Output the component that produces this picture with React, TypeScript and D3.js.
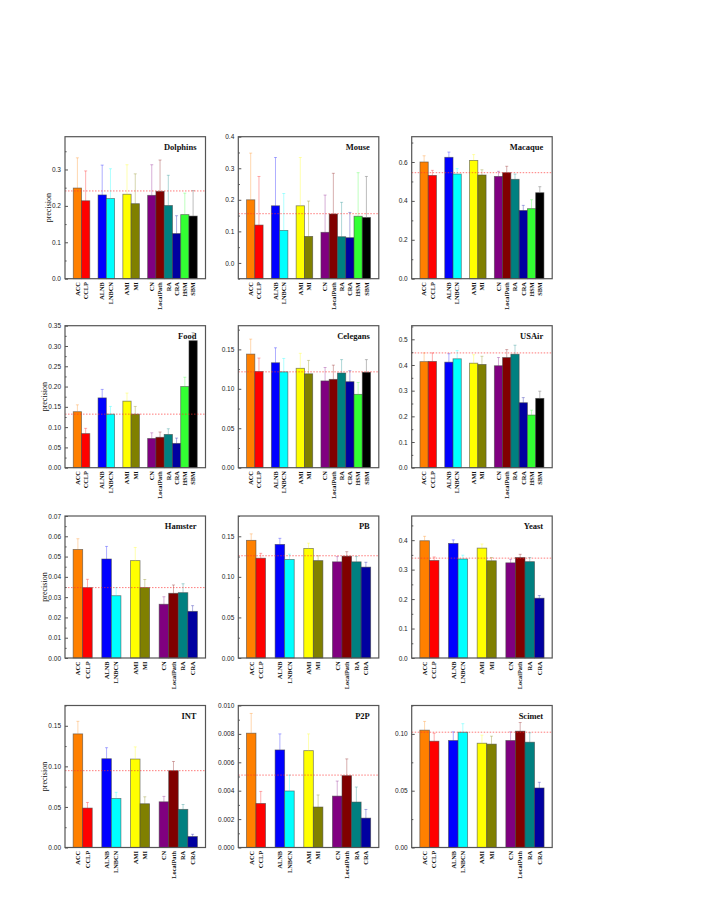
import React, { useEffect, useRef } from "react";
import * as d3 from "d3";

const width = 708;
const height = 917;

// methods, in the order the bars appear; a gap separates each group
const methodGroups = [
  ["ACC", "CCLP"],
  ["ALNB", "LNBCN"],
  ["AMI", "MI"],
  ["CN", "LocalPath", "RA", "CRA", "HSM", "SBM"],
];

const methodColors: Record<string, string> = {
  ACC: "#ff8000",
  CCLP: "#ff0000",
  ALNB: "#0000ff",
  LNBCN: "#00ffff",
  AMI: "#ffff00",
  MI: "#808000",
  CN: "#800080",
  LocalPath: "#800000",
  RA: "#008080",
  CRA: "#0000a0",
  HSM: "#33ff33",
  SBM: "#000000",
};

// precision and its error, one value per method
const dolphinsPrecision = [0.249, 0.214, 0.230, 0.220, 0.232, 0.206, 0.229, 0.240, 0.201, 0.124, 0.176, 0.172];
const dolphinsError = [0.083, 0.082, 0.082, 0.082, 0.081, 0.082, 0.084, 0.086, 0.083, 0.049, 0.059, 0.070];
const mousePrecision = [0.200, 0.120, 0.181, 0.103, 0.181, 0.084, 0.097, 0.155, 0.083, 0.080, 0.148, 0.144];
const mouseError = [0.148, 0.154, 0.153, 0.117, 0.153, 0.112, 0.118, 0.129, 0.109, 0.080, 0.138, 0.130];
const macaquePrecision = [0.600, 0.531, 0.624, 0.538, 0.608, 0.533, 0.526, 0.545, 0.511, 0.351, 0.360, 0.442];
const macaqueError = [0.032, 0.026, 0.027, 0.028, 0.030, 0.027, 0.026, 0.033, 0.027, 0.026, 0.046, 0.031];
const foodPrecision = [0.138, 0.084, 0.172, 0.132, 0.164, 0.132, 0.072, 0.075, 0.082, 0.060, 0.200, 0.313];
const foodError = [0.017, 0.013, 0.021, 0.019, 0.020, 0.019, 0.014, 0.013, 0.014, 0.013, 0.023, 0.020];
const celegansPrecision = [0.144, 0.122, 0.133, 0.1215, 0.126, 0.119, 0.110, 0.112, 0.120, 0.109, 0.093, 0.121];
const celegansError = [0.019, 0.017, 0.019, 0.017, 0.019, 0.017, 0.017, 0.018, 0.017, 0.014, 0.015, 0.016];
const usairPrecision = [0.413, 0.414, 0.411, 0.424, 0.407, 0.402, 0.397, 0.429, 0.442, 0.253, 0.205, 0.270];
const usairError = [0.034, 0.033, 0.033, 0.032, 0.033, 0.032, 0.032, 0.031, 0.035, 0.020, 0.019, 0.028];
const hamsterPrecision = [0.0535, 0.0347, 0.0488, 0.0307, 0.048, 0.0347, 0.0265, 0.0319, 0.0322, 0.023];
const hamsterError = [0.0053, 0.0041, 0.0062, 0.004, 0.0065, 0.004, 0.0037, 0.0041, 0.0044, 0.0028];
const pbPrecision = [0.145, 0.123, 0.140, 0.1214, 0.135, 0.120, 0.1185, 0.1255, 0.1185, 0.112];
const pbError = [0.008, 0.006, 0.0075, 0.0066, 0.0065, 0.006, 0.0065, 0.0055, 0.0065, 0.006];
const yeastPrecision = [0.398, 0.331, 0.389, 0.336, 0.373, 0.330, 0.323, 0.341, 0.327, 0.203];
const yeastError = [0.015, 0.012, 0.012, 0.013, 0.014, 0.011, 0.012, 0.011, 0.014, 0.009];
const intPrecision = [0.140, 0.0486, 0.1094, 0.0604, 0.109, 0.0539, 0.0563, 0.0947, 0.047, 0.0135];
const intError = [0.0155, 0.0069, 0.0136, 0.0076, 0.015, 0.0086, 0.0067, 0.0113, 0.006, 0.0028];
const p2pPrecision = [0.00805, 0.0031, 0.00687, 0.00398, 0.00682, 0.00285, 0.00362, 0.00506, 0.0032, 0.00207];
const p2pError = [0.00139, 0.00085, 0.00113, 0.00112, 0.00118, 0.00085, 0.00106, 0.00118, 0.00106, 0.00061];
const scimetPrecision = [0.1033, 0.0936, 0.0942, 0.1015, 0.0918, 0.091, 0.0942, 0.1024, 0.0927, 0.0524];
const scimetError = [0.0077, 0.007, 0.0076, 0.0075, 0.0071, 0.007, 0.0076, 0.0076, 0.0083, 0.005];

// red dotted reference level of each network
const networks = ["Dolphins", "Mouse", "Macaque", "Food", "Celegans", "USAir", "Hamster", "PB", "Yeast", "INT", "P2P", "Scimet"];
const referenceLevels = [0.241, 0.156, 0.545, 0.132, 0.1215, 0.447, 0.0347, 0.126, 0.339, 0.0947, 0.0051, 0.1015];

// y axes: [min, max], major step, label format
const yDomains = [[0, 0.39], [-0.05, 0.4], [0, 0.73], [0, 0.35], [0, 0.18], [0, 0.553], [0, 0.07], [0, 0.175], [0, 0.482], [0, 0.175], [0, 0.01], [0, 0.125]];
const yStarts = [0, 0, 0, 0, 0, 0, 0, 0, 0, 0, 0, 0];
const ySteps = [0.1, 0.1, 0.2, 0.05, 0.05, 0.1, 0.01, 0.05, 0.1, 0.05, 0.002, 0.05];
const yFormats = [".1f", ".1f", ".1f", ".2f", ".2f", ".1f", ".2f", ".2f", ".1f", ".2f", ".3f", ".2f"];

const precisions = [
  dolphinsPrecision, mousePrecision, macaquePrecision,
  foodPrecision, celegansPrecision, usairPrecision,
  hamsterPrecision, pbPrecision, yeastPrecision,
  intPrecision, p2pPrecision, scimetPrecision,
];
const errors = [
  dolphinsError, mouseError, macaqueError,
  foodError, celegansError, usairError,
  hamsterError, pbError, yeastError,
  intError, p2pError, scimetError,
];

var colLeft = [65, 238.3, 411.7];
var rowTop = [136.7, 325.7, 516, 705.5];
var plotW = 140.5;
var plotH = 142;

var serif = "'Liberation Serif', 'Times New Roman', serif";
var sans = "'Liberation Sans', Arial, sans-serif";

// slot index of every method, with one empty slot between groups
function slotsFor(n: number) {
  var out: { name: string; slot: number }[] = [];
  var s = 0;
  methodGroups.forEach((g, gi) => {
    if (gi > 0) s += 1;
    g.forEach(m => {
      if (out.length < n) out.push({ name: m, slot: s });
      s += 1;
    });
  });
  return out;
}

function drawPanel(svg: any, k: number) {
  var left = colLeft[k % 3];
  var top = rowTop[Math.floor(k / 3)];
  var values = precisions[k];
  var errs = errors[k];
  var items = slotsFor(values.length);
  var last = items[items.length - 1].slot + 1;
  var pad = values.length === 12 ? 1 : 0.85;

  var x = d3.scaleLinear().domain([-pad, last + pad]).range([left, left + plotW]);
  var dom = yDomains[k];
  var y = d3.scaleLinear().domain(dom).range([top + plotH, top]);

  var g = svg.append("g");

  var majors = d3.range(yStarts[k], dom[1] + 1e-9, ySteps[k]);
  var minors = d3.range(yStarts[k] - ySteps[k] / 2, dom[1] + 1e-9, ySteps[k]).filter(v => v >= dom[0] - 1e-9);

  // bars
  g.selectAll("rect.bar")
    .data(items)
    .enter()
    .append("rect")
    .attr("class", "bar")
    .attr("x", d => x(d.slot))
    .attr("width", d => x(d.slot + 1) - x(d.slot))
    .attr("y", (d, i) => y(values[i]))
    .attr("height", (d, i) => y(dom[0]) - y(values[i]))
    .attr("fill", d => methodColors[d.name])
    .attr("stroke", "#444")
    .attr("stroke-opacity", 0.65)
    .attr("stroke-width", 0.8);

  // error bars (upper half only)
  var eb = g.selectAll("g.err").data(items).enter().append("g")
    .attr("stroke", d => d.name === "SBM" ? "#888" : methodColors[d.name])
    .attr("stroke-opacity", d => d.name === "SBM" ? 0.7 : 0.4)
    .attr("stroke-width", 0.8);
  eb.append("line")
    .attr("x1", d => x(d.slot + 0.5))
    .attr("x2", d => x(d.slot + 0.5))
    .attr("y1", (d, i) => y(values[i]))
    .attr("y2", (d, i) => y(values[i] + errs[i]));
  eb.append("line")
    .attr("x1", d => x(d.slot + 0.5) - 1.5)
    .attr("x2", d => x(d.slot + 0.5) + 1.5)
    .attr("y1", (d, i) => y(values[i] + errs[i]))
    .attr("y2", (d, i) => y(values[i] + errs[i]));

  // reference level
  g.append("line")
    .attr("x1", left)
    .attr("x2", left + plotW)
    .attr("y1", y(referenceLevels[k]))
    .attr("y2", y(referenceLevels[k]))
    .attr("stroke", "#ff3030")
    .attr("stroke-opacity", 0.8)
    .attr("stroke-width", 0.8)
    .attr("stroke-dasharray", "1.5,1.5");

  // frame
  g.append("rect")
    .attr("x", left)
    .attr("y", top)
    .attr("width", plotW)
    .attr("height", plotH)
    .attr("fill", "none")
    .attr("stroke", "#555")
    .attr("stroke-width", 1.2);

  // left axis, ticks pointing inward
  var ax = g.append("g")
    .attr("transform", `translate(${left},0)`)
    .call(
      d3.axisLeft(y)
        .tickValues(majors)
        .tickSize(-3)
        .tickPadding(4)
        .tickFormat(d3.format(yFormats[k]) as any)
    );
  ax.select(".domain").remove();
  ax.selectAll("line").attr("stroke", "#555");
  ax.selectAll("text")
    .attr("font-family", sans)
    .attr("font-size", "6.5px")
    .attr("fill", "#222");

  var mx = g.append("g")
    .attr("transform", `translate(${left},0)`)
    .call(d3.axisLeft(y).tickValues(minors).tickSize(-1.6).tickFormat(() => ""));
  mx.select(".domain").remove();
  mx.selectAll("line").attr("stroke", "#555");

  // method names under the bars
  g.selectAll("text.method")
    .data(items)
    .enter()
    .append("text")
    .attr("class", "method")
    .attr("transform", d => `translate(${x(d.slot + 0.5) + 2.3},${top + plotH + 3.5}) rotate(-90)`)
    .attr("text-anchor", "end")
    .attr("font-family", serif)
    .attr("font-weight", "bold")
    .attr("font-size", "6.3px")
    .attr("fill", "#111")
    .text(d => d.name);

  // network name
  g.append("text")
    .attr("x", left + plotW - 9)
    .attr("y", top + 13)
    .attr("text-anchor", "end")
    .attr("font-family", serif)
    .attr("font-weight", "bold")
    .attr("font-size", "8.5px")
    .attr("fill", "#111")
    .text(networks[k]);

  if (k % 3 === 0) {
    // sits just left of the widest tick label
    var off = yFormats[k] === ".1f" ? 14 : 18.5;
    g.append("text")
      .attr("transform", `translate(${left - off},${top + plotH / 2}) rotate(-90)`)
      .attr("text-anchor", "middle")
      .attr("font-family", serif)
      .attr("font-size", "8px")
      .attr("fill", "#111")
      .text("precision");
  }
}

function Chart() {
  const svgRef = useRef<SVGSVGElement>(null);

  useEffect(() => {
    var svg = d3.select(svgRef.current);
    svg.selectAll("*").remove();
    svg.append("rect").attr("width", width).attr("height", height).attr("fill", "#fff");
    networks.forEach((n, k) => drawPanel(svg, k));
  }, []);

  return <svg ref={svgRef} width={width} height={height} style={{ display: "block" }}></svg>;
}

export default function App() {
  return (
    <div style={{ position: "absolute", left: 0, top: 0, width: width, height: height, background: "#fff" }}>
      <Chart />
    </div>
  );
}
